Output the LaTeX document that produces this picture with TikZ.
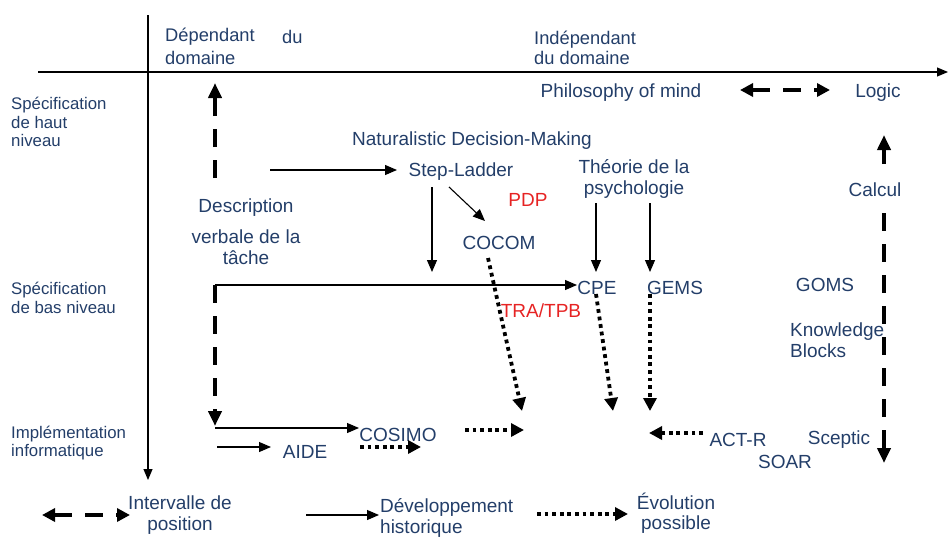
\documentclass[tikz,border=0pt]{standalone}
\usepackage{fontspec}
\setmainfont{Liberation Sans}
\usetikzlibrary{arrows.meta}
\definecolor{txtblue}{RGB}{35,62,105}
\definecolor{txtred}{RGB}{230,35,35}
\begin{document}
\begin{tikzpicture}[x=1pt,y=-1pt,
  lbl/.style={text=txtblue,font=\fontsize{19}{20.5}\selectfont,inner sep=0pt,align=left},
  rowlbl/.style={lbl,font=\fontsize{16.8}{18.5}\selectfont},
  rlbl/.style={lbl,text=txtred},
  axisline/.style={line width=1.1pt,-{Triangle[length=11pt,width=9pt]}},
  thinarrow/.style={line width=1.1pt,-{Triangle[length=12pt,width=10pt]}},
  dasharrow/.style={line width=3.8pt,dash pattern=on 18pt off 13pt,-{Triangle[length=15pt,width=13pt]}},
  dashboth/.style={line width=3.8pt,dash pattern=on 18pt off 13pt,{Triangle[length=13pt,width=13pt]}-{Triangle[length=13pt,width=13pt]}},
  dotarrow/.style={line width=3.8pt,dash pattern=on 3.8pt off 3.8pt,-{Triangle[length=13pt,width=13pt]}}]
\useasboundingbox (0,0) rectangle (948,536);
% axes
\coordinate (vtop) at (148,15);
\coordinate (vbot) at (148,480);
\coordinate (hleft) at (38,72);
\coordinate (hright) at (948,72);
\draw[axisline] (vtop) -- (vbot);
\draw[axisline] (hleft) -- (hright);
% headers
\node[lbl,anchor=west,font=\fontsize{18.3}{20.5}\selectfont] (dep1) at (165,37) {Dépendant};
\node[lbl,anchor=west,font=\fontsize{18.3}{20.5}\selectfont] (dep2) at (282,37) {du};
\node[lbl,anchor=west,font=\fontsize{18.3}{20.5}\selectfont] (dep3) at (165,58) {domaine};
\node[lbl,anchor=west,font=\fontsize{18.3}{20.5}\selectfont] (ind) at (534,48) {Indépendant\\du domaine};
% row labels
\node[rowlbl,anchor=west] (hs) at (11,122) {Spécification\\de haut\\niveau};
\node[rowlbl,anchor=west] (bs) at (11,298) {Spécification\\de bas niveau};
\node[rowlbl,anchor=west] (impl) at (11,443) {Implémentation\\informatique};
% content nodes
\node[lbl] (philo) at (621,93) {Philosophy of mind};
\node[lbl] (logic) at (878,93) {Logic};
\node[lbl] (nat) at (472,141) {Naturalistic Decision-Making};
\node[lbl] (step) at (461,172) {Step-Ladder};
\node[lbl,align=center] (theo) at (634,179) {Théorie de la\\psychologie};
\node[lbl] (calcul) at (875,190) {Calcul};
\node[rlbl] (pdp) at (528,200) {PDP};
\node[lbl] (desc1) at (246,208) {Description};
\node[lbl,align=center] (desc2) at (246,247) {verbale de la\\tâche};
\node[lbl] (cocom) at (499,243) {COCOM};
\node[lbl] (cpe) at (597,288) {CPE};
\node[lbl] (gems) at (675,288) {GEMS};
\node[lbl] (goms) at (825,285) {GOMS};
\node[rlbl] (tra) at (541,311) {TRA/TPB};
\node[lbl,anchor=west] (kb) at (790,340) {Knowledge\\Blocks};
\node[lbl] (cosimo) at (398,435) {COSIMO};
\node[lbl] (actr) at (738,440) {ACT-R};
\node[lbl] (sceptic) at (839,440) {Sceptic};
\node[lbl] (aide) at (305,452) {AIDE};
\node[lbl] (soar) at (785,462) {SOAR};
\node[lbl,align=center] (interv) at (180,515) {Intervalle de\\position};
\node[lbl,anchor=west] (dev) at (380,518) {Développement\\historique};
\node[lbl,align=center] (evol) at (676,513) {Évolution\\possible};
% connector coordinates
\coordinate (pl1) at (740,90);
\coordinate (pl2) at (830,90);
\coordinate (lgA) at (884,135);
\coordinate (lgB) at (884,164);
\coordinate (lgC) at (884,213);
\coordinate (lgD) at (884,463);
\coordinate (dsA) at (215,83);
\coordinate (dsB) at (215,178);
\coordinate (dsC) at (215,285);
\coordinate (dsD) at (215,426);
\coordinate (stA) at (270,170);
\coordinate (stB) at (397,170);
\coordinate (cpA) at (577,285);
\coordinate (coA) at (215,428);
\coordinate (coB) at (359,428);
\coordinate (aiA) at (217,447);
\coordinate (aiB) at (271,447);
\coordinate (slA) at (432,187);
\coordinate (slB) at (432,272);
\coordinate (slC) at (449,187);
\coordinate (slD) at (485,221);
\coordinate (thA) at (596,203);
\coordinate (thB) at (596,272);
\coordinate (thC) at (650,203);
\coordinate (thD) at (650,272);
\coordinate (ccA) at (488,258);
\coordinate (ccB) at (522,411);
\coordinate (cpB) at (596,294);
\coordinate (cpC) at (613,411);
\coordinate (gmA) at (650,294);
\coordinate (gmB) at (650,411);
\coordinate (csA) at (465,430);
\coordinate (csB) at (524,430);
\coordinate (adA) at (360,447);
\coordinate (adB) at (421,447);
\coordinate (arA) at (703,433);
\coordinate (arB) at (649,433);
\coordinate (lgnA) at (42,515);
\coordinate (lgnB) at (130,515);
\coordinate (lgnC) at (306,515);
\coordinate (lgnD) at (379,515);
\coordinate (lgnE) at (537,514);
\coordinate (lgnF) at (628,514);
% connectors
\draw[dashboth] (pl1) -- (pl2);
\draw[line width=3.8pt,-{Triangle[length=15pt,width=13pt]}] (lgB) -- (lgA);
\draw[dasharrow] (lgC) -- (lgD);
\draw[dasharrow] (dsB) -- (dsA);
\draw[dasharrow] (dsC) -- (dsD);
\draw[thinarrow] (dsC) -- (cpA);
\draw[thinarrow] (coA) -- (coB);
\draw[thinarrow] (aiA) -- (aiB);
\draw[thinarrow] (stA) -- (stB);
\draw[thinarrow] (slA) -- (slB);
\draw[thinarrow] (slC) -- (slD);
\draw[thinarrow] (thA) -- (thB);
\draw[thinarrow] (thC) -- (thD);
\draw[dotarrow] (ccA) -- (ccB);
\draw[dotarrow] (cpB) -- (cpC);
\draw[dotarrow] (gmA) -- (gmB);
\draw[dotarrow] (csA) -- (csB);
\draw[dotarrow] (adA) -- (adB);
\draw[dotarrow] (arA) -- (arB);
\draw[dashboth] (lgnA) -- (lgnB);
\draw[thinarrow] (lgnC) -- (lgnD);
\draw[dotarrow] (lgnE) -- (lgnF);
\end{tikzpicture}
\end{document}
